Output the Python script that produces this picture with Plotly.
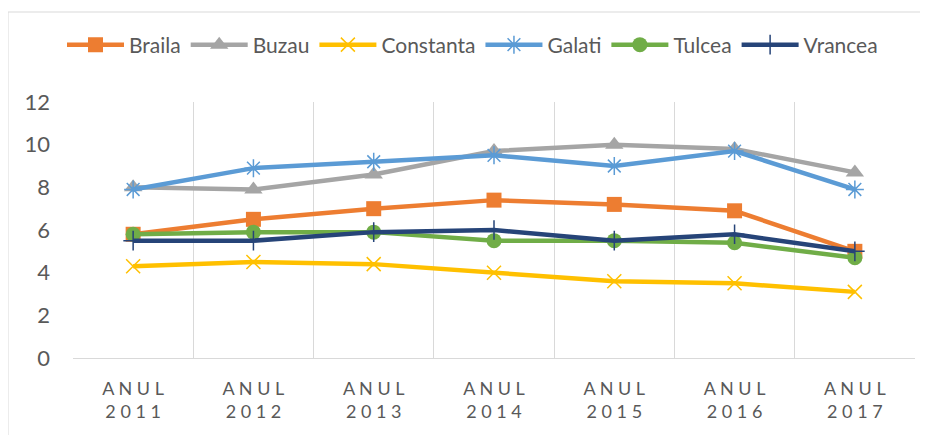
import plotly.graph_objects as go

years = ["2011", "2012", "2013", "2014", "2015", "2016", "2017"]
tick_labels = ["A N U L<br>" + " ".join(y) for y in years]

braila = [5.8, 6.5, 7.0, 7.4, 7.2, 6.9, 5.0]
buzau = [8.0, 7.9, 8.6, 9.7, 10.0, 9.8, 8.7]
constanta = [4.3, 4.5, 4.4, 4.0, 3.6, 3.5, 3.1]
galati = [7.9, 8.9, 9.2, 9.5, 9.0, 9.7, 7.9]
tulcea = [5.8, 5.9, 5.9, 5.5, 5.5, 5.4, 4.7]
vrancea = [5.5, 5.5, 5.9, 6.0, 5.5, 5.8, 5.0]

series = [
    ("Braila", braila, "#ED7D31", "square", 15, 0),
    ("Buzau", buzau, "#A5A5A5", "triangle-up", 16, 0),
    ("Constanta", constanta, "#FFC000", "x-thin-open", 14, 1.5),
    ("Galati", galati, "#5B9BD5", "asterisk-open", 15, 1.5),
    ("Tulcea", tulcea, "#70AD47", "circle", 15, 0),
    ("Vrancea", vrancea, "#264478", "cross-thin-open", 14, 1.5),
]

fig = go.Figure()
for name, vals, color, sym, size, lw in series:
    fig.add_trace(go.Scatter(
        x=tick_labels, y=vals, name=name, mode="lines+markers",
        line=dict(color=color, width=4.5),
        marker=dict(symbol=sym, size=size, color=color,
                    line=dict(color=color, width=lw)),
    ))

# page body has an 8px margin; compensate so marks land where intended
OFF = 8
W, H = 928 - OFF, 435 - OFF
L, R, T, B = 73 - OFF, 13, 102 - OFF, 77
pw, ph = W - L - R, H - T - B

def px_x(x):
    return (x - OFF - L) / pw

def px_y(y):
    return (H - B - (y - OFF)) / ph

fig.add_shape(type="rect", xref="paper", yref="paper",
              x0=px_x(8), x1=px_x(990), y0=px_y(500), y1=px_y(12),
              line=dict(color="#D9D9D9", width=1), layer="below")

font = "Lato, 'Open Sans', sans-serif"
fig.update_layout(
    width=W, height=H,
    margin=dict(l=L, r=R, t=T, b=B),
    paper_bgcolor="white", plot_bgcolor="white",
    font=dict(family=font, color="#595959"),
    showlegend=True,
    legend=dict(orientation="h", x=px_x(62), xanchor="left",
                y=px_y(45), yanchor="middle",
                font=dict(size=21, color="#595959"),
                itemwidth=57, tracegroupgap=0, traceorder="normal"),
    xaxis=dict(type="category", range=[-0.5, 6.5], tickson="boundaries",
               showgrid=True, gridcolor="#D9D9D9", gridwidth=1,
               showline=True, linecolor="#D9D9D9", linewidth=1,
               ticks="", tickfont=dict(size=18, color="#595959"),
               ticklabelstandoff=14, zeroline=False),
    yaxis=dict(range=[0, 12], dtick=2, showgrid=False, zeroline=False,
               showline=False, ticks="", tickfont=dict(size=22, color="#595959"),
               ticklabelstandoff=22),
)

fig.write_html("out.html")
